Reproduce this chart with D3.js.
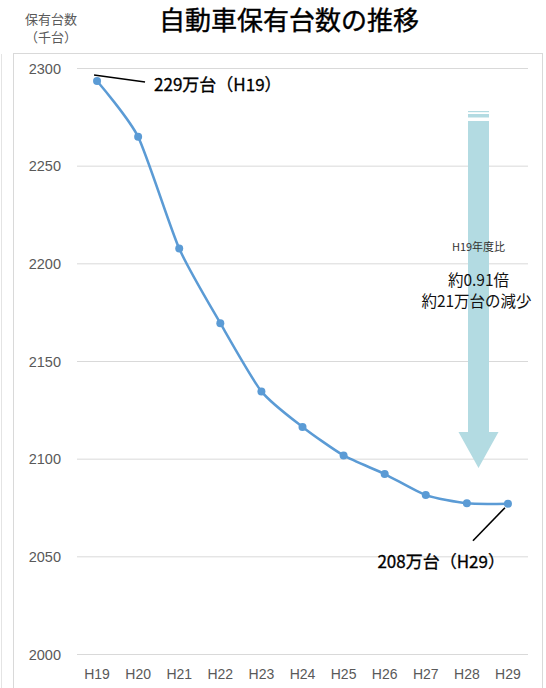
<!DOCTYPE html>
<html><head><meta charset="utf-8">
<script src="https://cdn.jsdelivr.net/npm/d3@7"></script>
<style>
html,body{margin:0;padding:0;background:#fff;}
svg{display:block;}
</style></head>
<body>
<svg id="c" width="546" height="688"></svg>
<script>
const categories = ["H19","H20","H21","H22","H23","H24","H25","H26","H27","H28","H29"];
const vehicles = [2293.6, 2265.0, 2207.8, 2169.6, 2134.7, 2116.5, 2101.9, 2092.4, 2081.6, 2077.4, 2077.2];
const yTicks = [2000, 2050, 2100, 2150, 2200, 2250, 2300];
const titleText = "自動車保有台数の推移";
const yTitle = ["保有台数", "（千台）"];
const startLabel = "229万台（H19）";
const endLabel = "208万台（H29）";
const arrowLines = ["H19年度比", "約0.91倍", "約21万台の減少"];

const svg = d3.select("#c");
const JP = "'Noto Sans CJK JP','Noto Sans',sans-serif";
const NUM = "'Liberation Sans','Noto Sans',sans-serif";

const x = d3.scaleBand().domain(categories).range([76.5, 528.5]);
const y = d3.scaleLinear().domain([2000, 2300]).range([654.5, 68.5]);
const cx = d => x(d) + x.bandwidth() / 2;

// frame
svg.append("line").attr("x1",1.5).attr("x2",1.5).attr("y1",54).attr("y2",688).attr("stroke","#e4e4e4");
svg.append("rect").attr("x",13.5).attr("y",53.5).attr("width",529).attr("height",660)
  .attr("fill","none").attr("stroke","#d9d9d9");

// gridlines
svg.append("g").selectAll("line").data(yTicks).join("line")
  .attr("x1",77).attr("x2",528).attr("y1",d=>y(d)).attr("y2",d=>y(d))
  .attr("stroke","#d9d9d9").attr("stroke-width",1);

// y axis labels
const yAxis = d3.axisLeft(y).tickValues(yTicks).tickSize(0).tickPadding(0).tickFormat(d3.format("d"));
const gy = svg.append("g").attr("transform","translate(61,0)").call(yAxis);
gy.select(".domain").remove();
gy.selectAll("text").attr("font-family",NUM).attr("font-size",14.5).attr("fill","#595959");

// x axis labels
const xAxis = d3.axisBottom(x).tickSize(0).tickPadding(0);
const gx = svg.append("g").attr("transform","translate(0,669)").call(xAxis);
gx.select(".domain").remove();
gx.selectAll("text").attr("font-family",NUM).attr("font-size",14).attr("fill","#595959");

// title
svg.append("text").attr("x",289).attr("y",30).attr("text-anchor","middle")
  .attr("font-family",JP).attr("font-size",26).attr("font-weight",400).attr("fill","#000")
  .attr("stroke","#000").attr("stroke-width",0.4)
  .text(titleText);
svg.append("g").selectAll("text").data(yTitle).join("text")
  .attr("x",51).attr("y",(d,i)=>24+i*18).attr("text-anchor","middle")
  .attr("font-family",JP).attr("font-size",13).attr("fill","#595959").text(d=>d);

// arrow
const ax = 478.5, shaftW = 21, headW = 40, aTop = 121, shaftEnd = 432, tip = 468;
const arrowColor = "#b3dbe2";
svg.append("path")
  .attr("d", `M${ax-shaftW/2},${aTop} L${ax+shaftW/2},${aTop} L${ax+shaftW/2},${shaftEnd} L${ax+headW/2},${shaftEnd} L${ax},${tip} L${ax-headW/2},${shaftEnd} L${ax-shaftW/2},${shaftEnd} Z`)
  .attr("fill",arrowColor);
svg.append("rect").attr("x",ax-shaftW/2).attr("y",111).attr("width",shaftW).attr("height",1.2).attr("fill",arrowColor);
svg.append("rect").attr("x",ax-shaftW/2).attr("y",114).attr("width",shaftW).attr("height",3.5).attr("fill",arrowColor);

svg.append("text").attr("x",ax).attr("y",251).attr("text-anchor","middle")
  .attr("font-family",JP).attr("font-size",11).attr("fill","#333").text(arrowLines[0]);
svg.append("text").attr("x",ax).attr("y",286).attr("text-anchor","middle")
  .attr("font-family",JP).attr("font-size",15.5).attr("fill","#111").text(arrowLines[1]);
svg.append("text").attr("x",ax-2).attr("y",307).attr("text-anchor","middle")
  .attr("font-family",JP).attr("font-size",15.5).attr("fill","#111").text(arrowLines[2]);

// series line
const pts = categories.map((c,i)=>[cx(c), y(vehicles[i])]);
svg.append("path").datum(pts)
  .attr("d", d3.line().curve(d3.curveCardinal.tension(0.35)))
  .attr("fill","none").attr("stroke","#5b9bd5").attr("stroke-width",2.5);
svg.append("g").selectAll("circle").data(pts).join("circle")
  .attr("cx",d=>d[0]).attr("cy",d=>d[1]).attr("r",4).attr("fill","#5b9bd5");

// leader lines + labels
const p0 = pts[0], pN = pts[pts.length-1];
svg.append("line").attr("x1",p0[0]-3).attr("y1",p0[1]-6).attr("x2",p0[0]+48).attr("y2",p0[1]+1)
  .attr("stroke","#000").attr("stroke-width",1.6);
svg.append("text").attr("x",p0[0]+57).attr("y",p0[1]+10)
  .attr("font-family",JP).attr("font-size",17).attr("font-weight",400).attr("fill","#000")
  .attr("stroke","#000").attr("stroke-width",0.3).text(startLabel);
svg.append("line").attr("x1",pN[0]-3).attr("y1",pN[1]+4).attr("x2",pN[0]-35).attr("y2",pN[1]+37)
  .attr("stroke","#000").attr("stroke-width",1.6);
svg.append("text").attr("x",pN[0]-3).attr("y",pN[1]+64).attr("text-anchor","end")
  .attr("font-family",JP).attr("font-size",17).attr("font-weight",400).attr("fill","#000")
  .attr("stroke","#000").attr("stroke-width",0.3).text(endLabel);
</script>
</body></html>
